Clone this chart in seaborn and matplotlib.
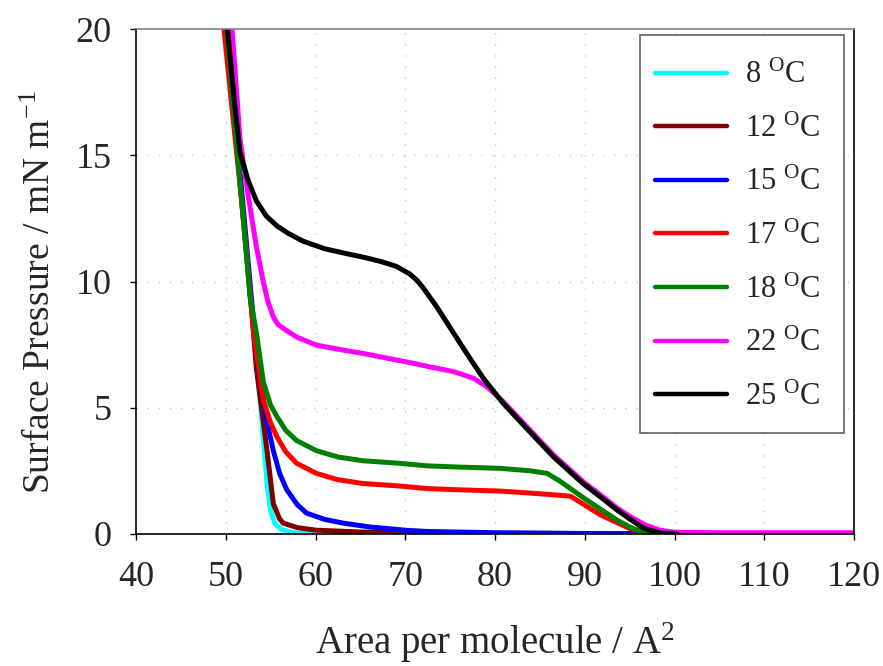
"""
Surface pressure - area isotherms at several subphase temperatures
"""

import pandas as pd
import numpy as np
import matplotlib
matplotlib.use("Agg")
import matplotlib.pyplot as plt
from matplotlib.patches import Rectangle
import seaborn as sns

# ============================================================================
# DATA
# ============================================================================

temps = ["8", "12", "15", "17", "18", "22", "25"]
colors = ["#00ffff", "#800000", "#0000ff", "#ff0000", "#008000", "#ff00ff", "#000000"]

area_8 = [50.0, 51.5, 53.0, 54.0, 54.6, 55.0, 55.5, 56.2, 57.5, 59.6]
pres_8 = [20, 14.3, 8.4, 4.6, 2.0, 0.9, 0.4, 0.18, 0.05, 0.0]

area_12 = [50.0, 51.5, 53.0, 53.4, 54.6, 55.3, 56.0, 56.4, 58.0, 60.1, 65, 72.4,
           80, 90, 100, 110, 120]
pres_12 = [20, 14.3, 8.4, 6.6, 3.3, 1.2, 0.6, 0.43, 0.25, 0.15, 0.08, 0.04,
           0.03, 0.02, 0.02, 0.02, 0.02]

area_15 = [50.1, 51.6, 53.1, 53.8, 54.5, 55.3, 56.0, 56.8, 58.0, 59.0, 61.0, 63.1,
           66, 70, 72.4, 80, 90, 96]
pres_15 = [20, 14.3, 8.4, 6.2, 4.6, 3.3, 2.4, 1.75, 1.15, 0.83, 0.58, 0.43,
           0.28, 0.15, 0.1, 0.05, 0.02, 0.0]

area_17 = [49.8, 50.8, 51.6, 52.3, 53.1, 54.2, 55.0, 55.7, 56.7, 57.9, 60.1, 62.5,
           65.3, 69.4, 72.4, 76, 80.6, 84, 88.4, 89.3, 90.2, 91.8, 93.6, 95, 96.2,
           97.5, 100]
pres_17 = [20, 16.5, 13.8, 11.2, 8.0, 5.3, 4.4, 3.85, 3.25, 2.8, 2.4, 2.15,
           2.0, 1.9, 1.8, 1.75, 1.7, 1.62, 1.5, 1.3, 1.1, 0.75, 0.45, 0.22, 0.1,
           0.03, 0.0]

area_18 = [50.1, 51.3, 52.0, 52.7, 53.4, 54.2, 55.0, 55.7, 56.7, 57.9, 60.1, 62.5,
           65.3, 69.4, 72.4, 76, 80.6, 84, 85.8, 87.2, 88.6, 90.2, 91.9, 93.6, 95,
           96.2, 98, 100, 105, 110, 115, 120]
pres_18 = [20, 15.1, 12.3, 9.4, 8.0, 6.0, 5.1, 4.65, 4.1, 3.7, 3.3, 3.05,
           2.9, 2.8, 2.7, 2.65, 2.6, 2.5, 2.4, 2.1, 1.75, 1.35, 0.95, 0.55, 0.28,
           0.1, 0.04, 0.03, 0.02, 0.02, 0.02, 0.02]

area_22 = [50.7, 51.6, 52.5, 53.4, 54.2, 54.7, 55.3, 55.8, 56.8, 57.9, 60.1, 62.5,
           65.3, 67.2, 70.9, 73.0, 75.4, 77.6, 79.1, 80.9, 83.5, 86.5, 89.8, 92.0,
           93.6, 95.2, 96.8, 98.4, 100, 105, 110, 115, 120]
pres_22 = [20, 15.6, 13.4, 11.4, 9.95, 9.2, 8.6, 8.3, 8.05, 7.8, 7.48, 7.32,
           7.15, 7.02, 6.76, 6.6, 6.43, 6.17, 5.83, 5.25, 4.27, 3.14, 2.08, 1.48,
           1.03, 0.66, 0.35, 0.15, 0.07, 0.05, 0.05, 0.05, 0.05]

area_25 = [50.2, 51.0, 51.6, 52.5, 53.4, 54.5, 55.7, 57.0, 58.6, 61.0, 63.5, 65.5,
           67.2, 69.0, 70.5, 71.3, 72.0, 73.5, 75.4, 77.2, 78.7, 80.9, 83.5, 86.5,
           89.8, 92.0, 93.6, 95.0, 96.5, 98.4, 100.3]
pres_25 = [20, 17.0, 15.1, 14.0, 13.2, 12.6, 12.2, 11.9, 11.6, 11.3, 11.1, 10.95,
           10.8, 10.6, 10.3, 10.05, 9.75, 9.0, 7.95, 6.96, 6.17, 5.18, 4.19, 3.06,
           2.0, 1.4, 0.95, 0.6, 0.24, 0.04, 0.0]

x_ticks = [40, 50, 60, 70, 80, 90, 100, 110, 120]
y_ticks = [0, 5, 10, 15, 20]

# ============================================================================
# BUILD LONG-FORM TABLE
# ============================================================================

areas = [area_8, area_12, area_15, area_17, area_18, area_22, area_25]
pressures = [pres_8, pres_12, pres_15, pres_17, pres_18, pres_22, pres_25]
labels = [t + r" $^{\mathrm{O}}$C" for t in temps]

frames = []
for lab, a, p in zip(labels, areas, pressures):
    frames.append(pd.DataFrame({"area": a, "pressure": p, "temp": lab}))
df = pd.concat(frames, ignore_index=True)

# ============================================================================
# PLOT
# ============================================================================

sns.set_theme(style="white")
plt.rcParams["font.family"] = ["Liberation Serif", "DejaVu Serif"]
plt.rcParams["mathtext.fontset"] = "custom"
plt.rcParams["mathtext.rm"] = "Liberation Serif"
plt.rcParams["mathtext.it"] = "Liberation Serif:italic"

W, H = 883, 666
fig = plt.figure(figsize=(W / 100, H / 100), dpi=100)
ax = fig.add_axes([136 / W, 132 / H, 718 / W, 505 / H])

sns.lineplot(data=df, x="area", y="pressure", hue="temp", hue_order=labels,
             palette=dict(zip(labels, colors)), linewidth=3.6, sort=False,
             estimator=None, ax=ax)
for ln in ax.get_lines():
    ln.set_solid_joinstyle("round")

ax.set_xlim(40, 120)
ax.set_ylim(0, 20)
ax.set_xticks(x_ticks)
ax.set_yticks(y_ticks)

# dotted grid
for xv in x_ticks[1:-1]:
    ax.axvline(xv, color="#c8c8c8", lw=1, ls=(0, (1, 7)), zorder=0)
for yv in y_ticks[1:-1]:
    ax.axhline(yv, color="#c8c8c8", lw=1, ls=(0, (1, 7)), zorder=0)

for side in ["left", "bottom", "right"]:
    ax.spines[side].set_color("black")
    ax.spines[side].set_linewidth(1.2)
ax.spines["top"].set_color("#808080")
ax.spines["top"].set_linewidth(1.2)

ax.tick_params(axis="both", direction="out", length=4.5, width=1, color="black",
               labelsize=26, pad=13, bottom=True, left=True)
ax.tick_params(axis="x", pad=15)

ax.set_xlabel(r"Area per molecule / A$^{2}$", fontsize=28, labelpad=19)
ax.set_ylabel(r"Surface Pressure / mN m$^{-1}$", fontsize=27)
ax.yaxis.set_label_coords((58 - 136) / 718, (534 - 292) / 505)

# legend box drawn as in the reference, entries placed inside it
ax.add_patch(Rectangle(((640 - 136) / 718, (534 - 433) / 505), 204 / 718, 398 / 505,
                       transform=ax.transAxes, facecolor="white", edgecolor="#606060",
                       lw=1.2, zorder=5, clip_on=False))
handles, labs = ax.get_legend_handles_labels()
for h in handles:
    h.set_linewidth(3.2)
leg = ax.legend(handles, labs, loc="upper left",
                bbox_to_anchor=((655 - 136) / 718, (534 - 61) / 505), borderaxespad=0,
                borderpad=0, fontsize=22, frameon=False, handlelength=2.35,
                handletextpad=0.6, labelspacing=0.8)
leg.set_zorder(6)

fig.savefig("out.png", dpi=100)
